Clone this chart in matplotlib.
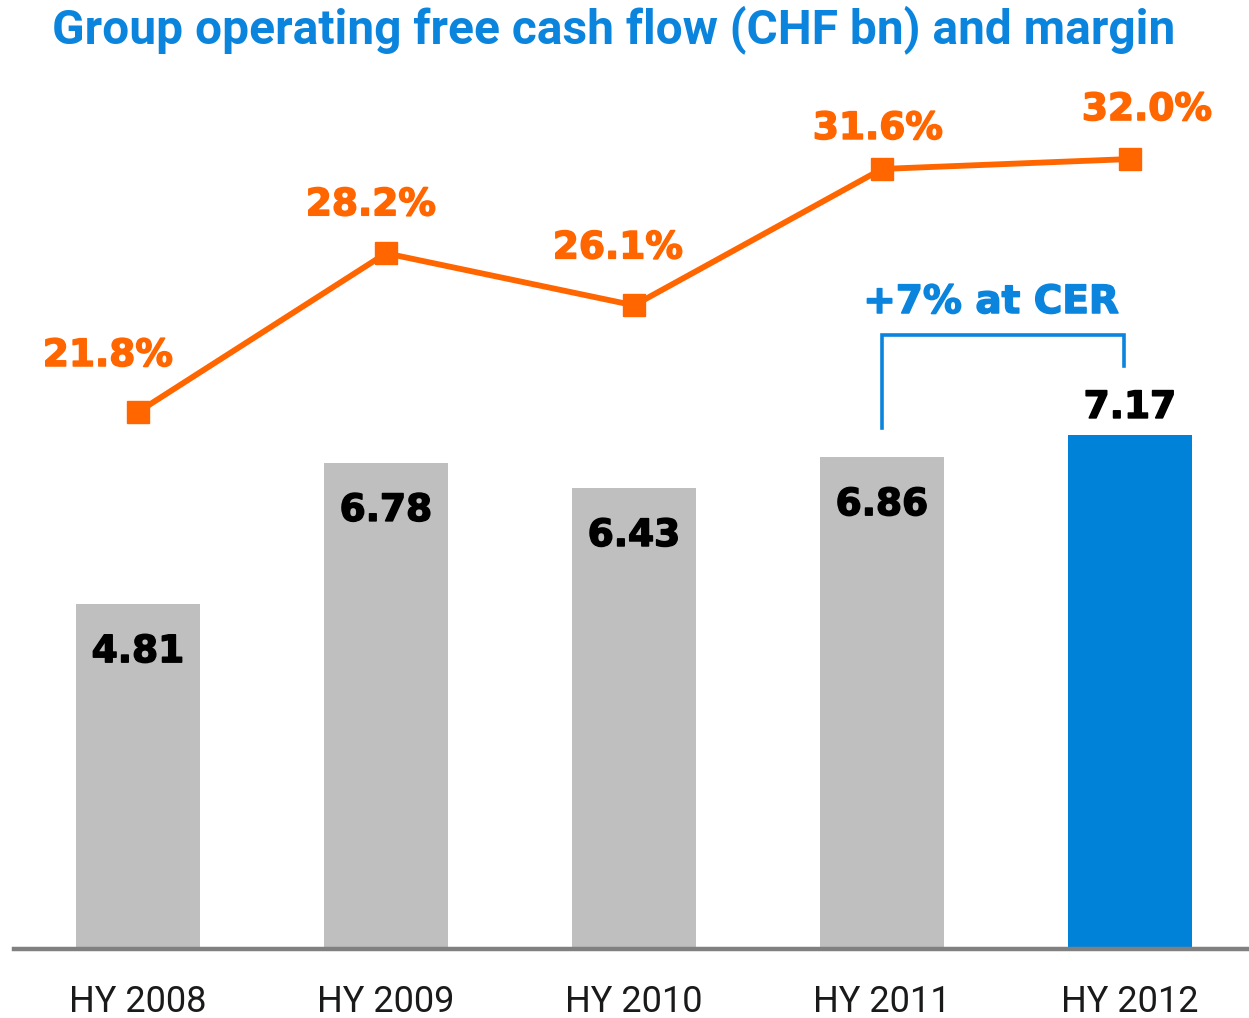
import matplotlib
matplotlib.use("Agg")
import matplotlib.pyplot as plt
import matplotlib.patheffects as pe

categories = ["HY 2008", "HY 2009", "HY 2010", "HY 2011", "HY 2012"]
ofcf = [4.81, 6.78, 6.43, 6.86, 7.17]
margin = [21.8, 28.2, 26.1, 31.6, 32.0]
margin_labels = ["21.8%", "28.2%", "26.1%", "31.6%", "32.0%"]
bar_labels = ["4.81", "6.78", "6.43", "6.86", "7.17"]
title = "Group operating free cash flow (CHF bn) and margin"
cer_label = "+7% at CER"

GRAY = "#BFBFBF"
BLUE = "#0082D9"
TBLUE = "#0A84DC"
ORANGE = "#FF6600"
AXGRAY = "#808080"

W, H = 1249, 1018
fig = plt.figure(figsize=(W / 100, H / 100), dpi=100)

def px(x0, y0, w, h):
    return [x0 / W, 1 - (y0 + h) / H, w / W, h / H]

ax = fig.add_axes(px(14, 0, W - 14, 949))
ax.set_xlim(-0.5, (W - 138) / 248)
ax.set_ylim(0, 949 / 71.7)
for s in ax.spines.values():
    s.set_visible(False)
ax.set_xticks([])
ax.set_yticks([])
ax.patch.set_alpha(0)

x = list(range(len(categories)))
colors = [GRAY] * (len(x) - 1) + [BLUE]
ax.bar(x, ofcf, width=0.496, color=colors, zorder=2)
ax.axhline(0, color=AXGRAY, lw=3.2, zorder=3, clip_on=False)

def heavy(c):
    return [pe.withStroke(linewidth=1.1, foreground=c)]

numfont = dict(family="DejaVu Sans", weight="bold", fontsize=27)
for i, (v, lab) in enumerate(zip(ofcf, bar_labels)):
    dy = 17 if i == len(x) - 1 else -58
    ax.annotate(lab, (i, v), xytext=(0, dy), textcoords="offset pixels",
                ha="center", va="baseline", color="black",
                path_effects=heavy("black"), **numfont)

for i, lab in enumerate(categories):
    ax.annotate(lab, (i, 0), xytext=(0, -63), textcoords="offset pixels",
                ha="center", va="baseline", family="Roboto", fontsize=26,
                color="#1a1a1a", annotation_clip=False)

ax2 = ax.twinx()
m_lo = 21.8 - (949 - 412) / 24.8
m_hi = 21.8 + 412 / 24.8
ax2.set_ylim(m_lo, m_hi)
for s in ax2.spines.values():
    s.set_visible(False)
ax2.set_yticks([])
ax2.plot(x, margin, color=ORANGE, lw=4.2, marker="s", markersize=15.5,
         zorder=4, clip_on=False)

lab_dx = [-30, -15, -16, -4, 17]
lab_dy = [46, 38, 47, 30, 39]
for i, (m, lab) in enumerate(zip(margin, margin_labels)):
    ax2.annotate(lab, (i, m), xytext=(lab_dx[i], lab_dy[i]),
                 textcoords="offset pixels", ha="center", va="baseline",
                 color=ORANGE, path_effects=heavy(ORANGE), **numfont)

# bracket between HY 2011 and HY 2012
b_left, b_right = 3, 4 - 0.024
yb0 = (949 - 428) / 71.7
yb_top = (949 - 335) / 71.7
yb1 = (949 - 366) / 71.7
ax.plot([b_left, b_left, b_right, b_right], [yb0, yb_top, yb_top, yb1],
        color=TBLUE, lw=2.6, solid_joinstyle="miter", zorder=3)
ax.annotate(cer_label, ((b_left + b_right) / 2, yb_top), xytext=(-12, 22),
            textcoords="offset pixels", ha="center", va="baseline",
            color=TBLUE, path_effects=heavy(TBLUE),
            family="DejaVu Sans", weight="bold", fontsize=28)

fig.text(614 / W, 1 - 43 / H, title, ha="center", va="baseline",
         family="Roboto", weight="bold", fontsize=34.5, color=TBLUE)

fig.savefig("out.png", dpi=100)
